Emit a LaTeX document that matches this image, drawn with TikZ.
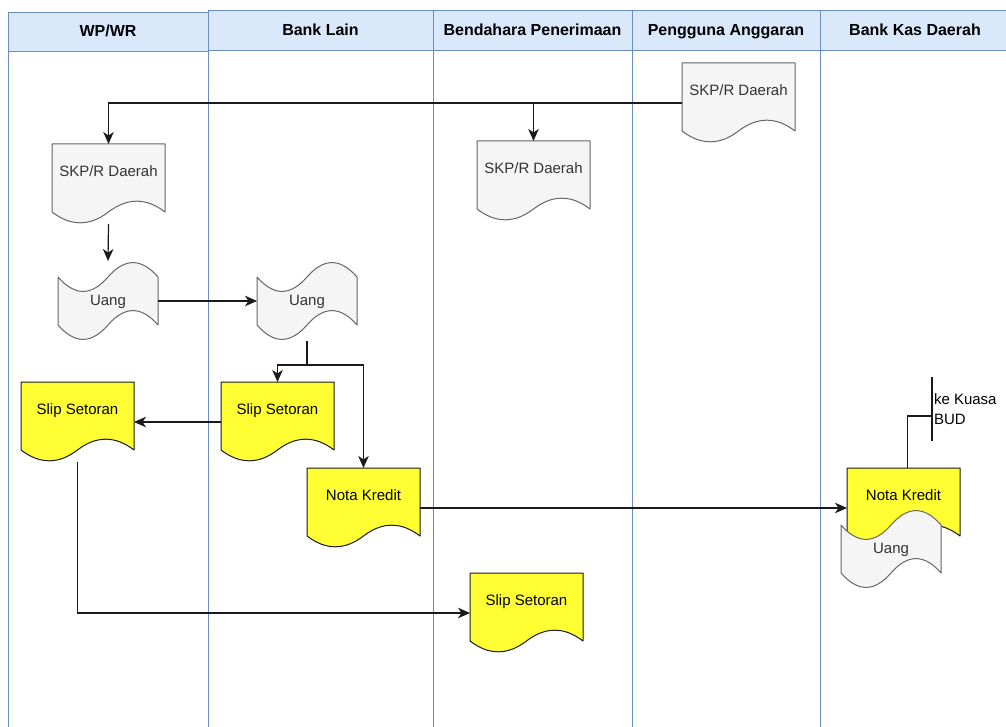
\documentclass[tikz,border=0pt]{standalone}
\usepackage{fontspec}
\setmainfont{Liberation Sans}
\usetikzlibrary{arrows.meta}

\definecolor{laneblue}{HTML}{6C8EBF}
\definecolor{headblue}{HTML}{DAE8FC}
\definecolor{paperfill}{HTML}{F5F5F5}
\definecolor{paperline}{HTML}{666666}
\definecolor{papertext}{HTML}{333333}
\definecolor{slipfill}{HTML}{FFFF33}
\definecolor{inkline}{HTML}{1A1A1A}

\newcommand\headfont{\fontsize{16}{19}\selectfont\bfseries}
\newcommand\bodyfont{\fontsize{15}{18}\selectfont}

% document symbol: 113 x 80, flat top, wavy bottom; #4 picks the colour set
\newcommand\docnode[5]{%
  \path[#4doc, shift={(#2,#3)}] (0,0) -- (113,0) -- (113,68)
    .. controls (94.17,53.6) and (75.33,53.6) .. (56.5,68)
    .. controls (37.67,82.4) and (18.83,82.4) .. (0,68) -- cycle;
  \node[frame, minimum width=113, minimum height=80] (#1) at (#2,#3) {};
  \node[#4text] (#1-text) at ([yshift=-29pt]#1.north) {#5};
}

% punched-tape symbol: 100 x 80, wavy top and bottom
\newcommand\tapenode[5]{%
  \path[#4doc, shift={(#2,#3)}] (0,16)
    .. controls (16.67,35.2) and (33.33,35.2) .. (50,16)
    .. controls (66.67,-3.2) and (83.33,-3.2) .. (100,16)
    -- (100,64)
    .. controls (83.33,44.8) and (66.67,44.8) .. (50,64)
    .. controls (33.33,83.2) and (16.67,83.2) .. (0,64) -- cycle;
  \node[frame, minimum width=100, minimum height=80] (#1) at (#2,#3) {};
  \node[#4text] (#1-text) at ([yshift=-1pt]#1.center) {#5};
}

\begin{document}
\begin{tikzpicture}[x=1pt,y=-1pt,
  lanehead/.style={draw=laneblue, fill=headblue, line width=1pt, inner sep=0pt,
    outer sep=0pt, anchor=north west, font=\headfont, text=black,
    text height=11.5pt, text depth=3.4pt},
  laneedge/.style={draw=laneblue, line width=1pt},
  frame/.style={draw=none, inner sep=0pt, outer sep=0pt, anchor=north west},
  graydoc/.style={fill=paperfill, draw=paperline, line width=1pt, line join=round},
  graytext/.style={font=\bodyfont, text=papertext, inner sep=1pt,
    text height=10.8pt, text depth=3.2pt},
  yellowdoc/.style={fill=slipfill, draw=inkline, line width=1pt, line join=round},
  yellowtext/.style={font=\bodyfont, text=black, inner sep=1pt,
    text height=10.8pt, text depth=3.2pt},
  link/.style={draw=inkline, line width=1.2pt},
  flow/.style={link, -{Stealth[length=12pt,width=10.5pt,inset=3.5pt]}},
  note/.style={font=\fontsize{15}{20.5}\selectfont, text=black, align=left,
    inner xsep=2pt, inner ysep=0pt, outer sep=0pt, anchor=west}
]
\useasboundingbox (0,0) rectangle (1006,727);

% swimlanes
\node[lanehead, minimum width=200, minimum height=39] (laneWP) at (8,13) {WP/WR};
\node[lanehead, minimum width=225, minimum height=40] (laneBL) at (208,11) {Bank Lain};
\node[lanehead, minimum width=199, minimum height=40] (laneBP) at (433,11) {Bendahara Penerimaan};
\node[lanehead, minimum width=188, minimum height=40] (lanePA) at (632,11) {Pengguna Anggaran};
\node[lanehead, minimum width=190, minimum height=40] (laneKD) at (820,11) {Bank Kas Daerah};
\draw[laneedge] (laneWP.south west) -- (8,735);
\draw[laneedge] (laneBL.south west) -- (208,735);
\draw[laneedge] (laneBP.south west) -- (433,735);
\draw[laneedge] (lanePA.south west) -- (632,735);
\draw[laneedge] (laneKD.south west) -- (820,735);

% documents
\docnode{skpPA}{682}{63}{gray}{SKP/R Daerah}
\docnode{skpBP}{477}{141}{gray}{SKP/R Daerah}
\docnode{skpWP}{52}{144}{gray}{SKP/R Daerah}
\tapenode{uangWP}{58}{261}{gray}{Uang}
\tapenode{uangBL}{257}{261}{gray}{Uang}
\docnode{slipWP}{21}{382}{yellow}{Slip Setoran}
\docnode{slipBL}{221}{382}{yellow}{Slip Setoran}
\docnode{nkBL}{307}{468}{yellow}{Nota Kredit}
\docnode{slipBP}{470}{573}{yellow}{Slip Setoran}
\docnode{nkKD}{847}{468}{yellow}{Nota Kredit}
\tapenode{uangKD}{841}{509}{gray}{Uang}

% annotation
\node[note, minimum height=64] (kuasa) at (932,409) {ke Kuasa\\BUD};
\draw[link] (kuasa.north west) -- (kuasa.south west);

% flows
\draw[flow] (skpPA.west) -| (skpWP.north);
\draw[flow] (skpPA.west -| skpBP.north) -- (skpBP.north);
\draw[flow] (skpWP.south) -- (uangWP.north);
\draw[flow] (uangWP.east) -- (uangBL.west);
\coordinate (split) at ([yshift=-24pt]uangBL.south);
\draw[link] (uangBL.south) -- (split);
\draw[flow] (split) -| (slipBL.north);
\draw[flow] (split) -| (nkBL.north);
\draw[flow] (slipBL.west) -- (slipWP.east);
\draw[flow] (nkBL.east) -- (nkKD.west);
\draw[flow] (slipWP.south) |- (slipBP.west);
\draw[link] ([xshift=4pt]nkKD.north) |- ([yshift=-7pt]kuasa.west);
\end{tikzpicture}
\end{document}
